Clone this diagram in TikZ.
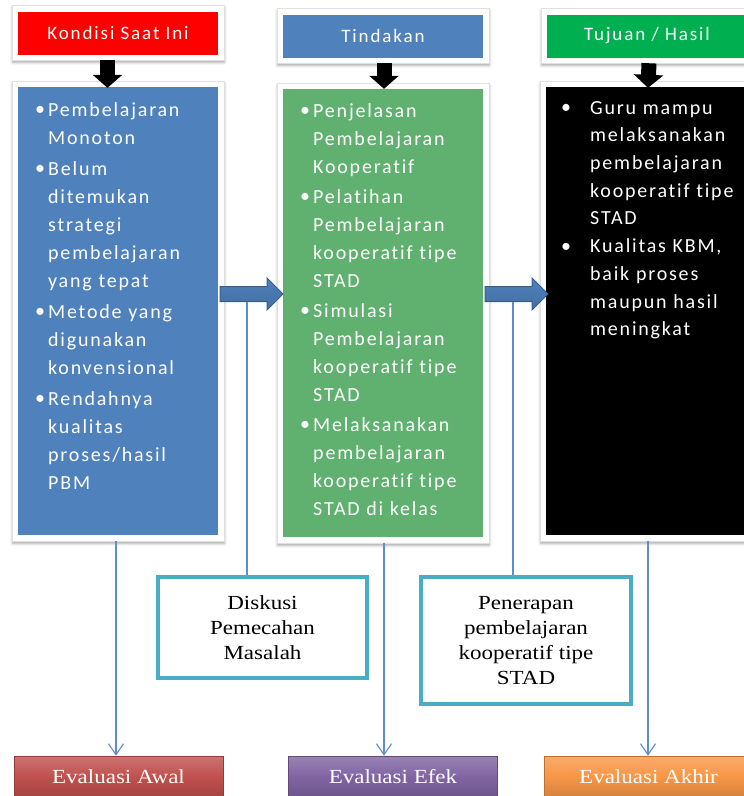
\documentclass[tikz,border=0pt]{standalone}
\usepackage{fontspec}
\setmainfont{Liberation Serif}
\newfontfamily\calfont[LetterSpace=9,Ligatures=NoCommon]{Carlito}
\newfontfamily\serfont[FakeStretch=1.15]{Liberation Serif}
\usetikzlibrary{arrows.meta,shadows.blur,calc}
\definecolor{hred}{HTML}{FF0000}
\definecolor{hblue}{HTML}{4F81BD}
\definecolor{hgreen}{HTML}{00B050}
\definecolor{cgreen}{HTML}{60B06F}
\definecolor{arrowdark}{HTML}{385D8A}
\definecolor{arrowlight}{HTML}{6E9DD8}
\definecolor{linkblue}{HTML}{5B8DCF}
\definecolor{tealc}{HTML}{4BACC6}
\definecolor{evred}{HTML}{C0504D}
\definecolor{evpurple}{HTML}{8064A2}
\definecolor{evorange}{HTML}{F79646}
\newcommand\itm[2]{\hangindent=#1\hangafter=1\noindent\makebox[#1][l]{\raisebox{0.5pt}{•}}#2\par}
\tikzset{
  frame/.style={rectangle, inner sep=0pt, fill=white, draw=black!12, line width=0.5pt,
    blur shadow={shadow xshift=0.5pt, shadow yshift=-2.5pt, shadow blur radius=2.5pt, shadow opacity=35}},
  hdr/.style={rectangle, inner sep=0pt, minimum width=200pt, minimum height=43pt, fill=#1,
    text=white, font=\calfont\addfontfeature{LetterSpace=10}\fontsize{19}{22}\selectfont},
  content/.style={rectangle, inner sep=0pt, minimum width=200pt, minimum height=448pt, fill=#1},
  bodytext/.style={inner sep=0pt, anchor=north west, text=white,
    font=\calfont\fontsize{20}{28}\selectfont},
  downarrow/.style={line width=15pt, draw=black, -{Triangle[width=29pt,length=13pt]}},
  blockarrow/.style={top color=hblue, middle color=arrowlight, bottom color=hblue!85!black, draw=arrowdark, line width=1pt},
  link/.style={draw=linkblue, line width=1.1pt},
  linkarrow/.style={link, -{Straight Barb[length=11pt,width=15pt,line width=1.1pt]}},
  notebox/.style={rectangle, inner sep=0pt, draw=tealc, line width=4pt, fill=white, align=center,
    font=\serfont\fontsize{20}{25}\selectfont},
  evalbox/.style={rectangle, inner sep=0pt, minimum width=209pt, minimum height=42pt,
    draw=#1!75!black, line width=0.6pt, top color=#1!80!white, bottom color=#1!85!black,
    middle color=#1, text=white, font=\serfont\fontsize{20}{24}\selectfont}
}
\begin{document}
\begin{tikzpicture}[x=1pt,y=-1pt]
\useasboundingbox (0,0) rectangle (744,796);
\clip (0,0) rectangle (744,796);
% header frames and headers
\node[frame, minimum width=212pt, minimum height=55pt] (f1) at (118,32.5) {};
\node[frame, minimum width=212pt, minimum height=55pt] (f2) at (383,35.5) {};
\node[frame, minimum width=212pt, minimum height=55pt] (f3) at (647,35.5) {};
\node[hdr=hred] (h1) at (118,33) {Kondisi Saat Ini};
\node[hdr=hblue] (h2) at (383,36) {Tindakan};
\node[hdr=hgreen] (h3) at (647,36) {Tujuan / Hasil};
% content frames and boxes
\node[frame, minimum width=212pt, minimum height=460pt] (g1) at (118,311) {};
\node[frame, minimum width=212pt, minimum height=460pt] (g2) at (383,313) {};
\node[frame, minimum width=212pt, minimum height=460pt] (g3) at (646,311) {};
\node[content=hblue] (c1) at (118,311) {};
\node[content=cgreen] (c2) at (383,313) {};
\node[content=black] (c3) at (646,311) {};
% texts
\node[bodytext, text width=182pt] (t1) at (35,102) {\raggedright\setlength{\parskip}{3pt}%
\itm{13pt}{Pembelajaran\newline Monoton}%
\itm{13pt}{Belum\newline ditemukan\newline strategi\newline pembelajaran\newline yang tepat}%
\itm{13pt}{Metode yang\newline digunakan\newline konvensional}%
\itm{13pt}{Rendahnya\newline kualitas\newline proses/hasil\newline PBM}};
\node[bodytext, text width=182pt] (t2) at (300,103) {\raggedright\setlength{\parskip}{2pt}%
\itm{13pt}{Penjelasan\newline Pembelajaran\newline Kooperatif}%
\itm{13pt}{Pelatihan\newline Pembelajaran\newline kooperatif tipe\newline STAD}%
\itm{13pt}{Simulasi\newline Pembelajaran\newline kooperatif tipe\newline STAD}%
\itm{13pt}{Melaksanakan\newline pembelajaran\newline kooperatif tipe\newline STAD di kelas}};
\node[bodytext, text width=185pt, font=\calfont\fontsize{20}{27.7}\selectfont] (t3) at (561,101) {\raggedright
\itm{29pt}{Guru mampu\newline melaksanakan\newline pembelajaran\newline kooperatif tipe\newline STAD}%
\itm{29pt}{Kualitas KBM,\newline baik proses\newline maupun hasil\newline meningkat}};
% black down arrows
\draw[downarrow] ($(f1.south)+(-10.5,0)$) -- ($(c1.north)+(-10.5,1)$);
\draw[downarrow] ($(f2.south)+(1,0)$) -- ($(c2.north)+(1,0)$);
\draw[downarrow] ($(f3.south)+(2,0)$) -- ($(c3.north)+(2,1)$);
% block arrows
\coordinate (a1s) at (220,294);
\coordinate (a2s) at (485,294);
\draw[blockarrow] (a1s) ++(0,-7.5) -- ++(47,0) -- ++(0,-8.5) -- ++(16,16) -- ++(-16,16) -- ++(0,-8.5) -- ++(-47,0) -- cycle;
\draw[blockarrow] (a2s) ++(0,-7.5) -- ++(47,0) -- ++(0,-8.5) -- ++(16,16) -- ++(-16,16) -- ++(0,-8.5) -- ++(-47,0) -- cycle;
% note boxes
\node[notebox, minimum width=209pt, minimum height=101pt] (d1) at (262.5,627.5) {Diskusi\\Pemecahan\\Masalah};
\node[notebox, minimum width=210pt, minimum height=127pt] (d2) at (526,640.5) {Penerapan\\pembelajaran\\kooperatif tipe\\STAD};
\coordinate (k1) at (247,302);
\coordinate (k2) at (513,302);
\draw[link] (k1) -- (k1 |- d1.north);
\draw[link] (k2) -- (k2 |- d2.north);
% evaluation boxes
\node[evalbox=evred] (ea) at (118.5,777) {Evaluasi Awal};
\node[evalbox=evpurple] (ee) at (393,777) {Evaluasi Efek};
\node[evalbox=evorange] (ek) at (648.5,777) {Evaluasi Akhir};
\coordinate (x1) at (116,0);
\coordinate (x2) at (384,0);
\coordinate (x3) at (648,0);
\draw[linkarrow] (g1.south -| x1) -- (ea.north -| x1);
\draw[linkarrow] (g2.south -| x2) -- (ee.north -| x2);
\draw[linkarrow] (g3.south -| x3) -- (ek.north -| x3);
\end{tikzpicture}
\end{document}
